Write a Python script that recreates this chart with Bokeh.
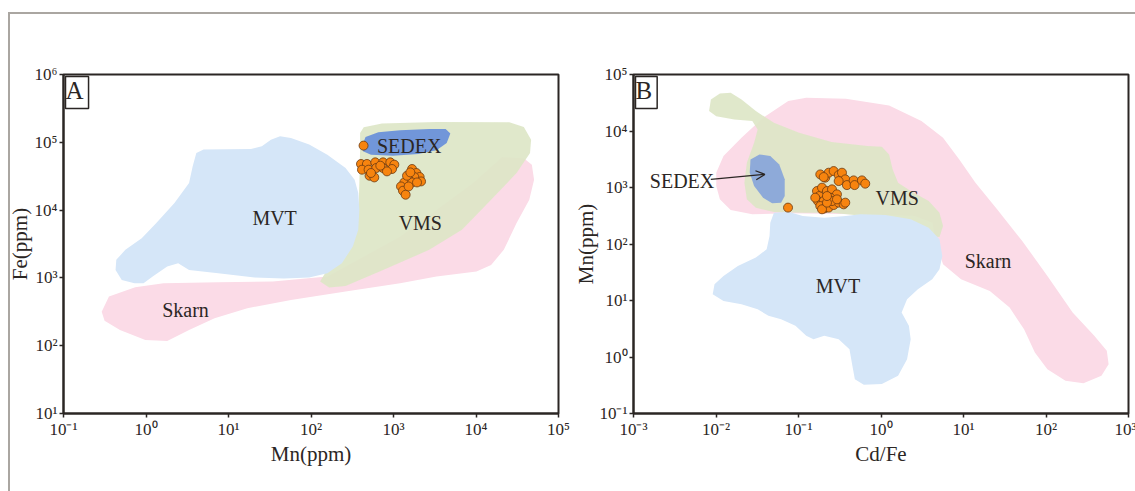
from bokeh.plotting import figure
from bokeh.layouts import row, column
from bokeh.models import Range1d, FixedTicker, CustomJSTickFormatter, Label, Arrow, OpenHead, Spacer
from bokeh.core.properties import value
from bokeh.embed import file_html
from bokeh.resources import INLINE

FONT = "Liberation Serif"
INK = "#2b2624"
FRAME_GREY = "#aaa6a1"

# ---------------- Panel A: Fe vs Mn (log10 values) ----------------
a_tick_exp_x = [-1, 0, 1, 2, 3, 4, 5]
a_tick_lab_x = ["10⁻¹", "10⁰", "10¹", "10²", "10³", "10⁴", "10⁵"]
a_tick_exp_y = [1, 2, 3, 4, 5, 6]
a_tick_lab_y = ["10¹", "10²", "10³", "10⁴", "10⁵", "10⁶"]

a_skarn_x = [-0.449, -0.131, 0.213, 0.875, 1.536, 2.198, 3.080, 3.963, 4.315, 4.580, 4.677, 4.704, 4.646, 4.492,
             4.337, 4.183, 4.006, 3.521, 3.080, 2.419, 1.757, 1.228, 0.831, 0.522, 0.257, -0.008, -0.316, -0.502, -0.537]
a_skarn_y = [2.724, 2.862, 2.921, 2.936, 2.946, 3.020, 3.611, 4.399, 4.783, 4.764, 4.670, 4.448, 4.153, 3.808,
             3.414, 3.192, 3.094, 3.020, 2.921, 2.798, 2.675, 2.552, 2.404, 2.232, 2.069, 2.084, 2.232, 2.369, 2.502]

a_vms_x = [2.595, 2.639, 2.860, 3.521, 4.404, 4.580, 4.668, 4.655, 4.492, 4.183, 3.830, 3.433, 2.860, 2.419,
           2.220, 2.110, 2.176, 2.374, 2.507, 2.573, 2.586, 2.595]
a_vms_y = [5.138, 5.222, 5.276, 5.300, 5.296, 5.227, 5.039, 4.842, 4.547, 4.153, 3.709, 3.414, 3.108, 2.882,
           2.857, 2.946, 3.079, 3.256, 3.537, 3.906, 4.399, 4.892]

a_mvt_x = [0.610, 0.698, 1.272, 1.404, 1.514, 1.625, 1.757, 1.978, 2.198, 2.419, 2.529, 2.573, 2.586, 2.573,
           2.507, 2.374, 2.198, 1.978, 1.669, 1.316, 0.875, 0.522, 0.390, 0.257, 0.081, -0.030, -0.140, -0.294,
           -0.369, -0.360, -0.250, -0.052, 0.125, 0.345, 0.522, 0.566]
a_mvt_y = [4.842, 4.892, 4.901, 4.941, 5.039, 5.089, 5.064, 4.966, 4.818, 4.621, 4.448, 4.251, 4.005, 3.709,
           3.463, 3.217, 3.069, 3.005, 2.990, 3.005, 3.069, 3.118, 3.217, 3.167, 3.020, 2.921, 2.921, 2.970,
           3.118, 3.266, 3.414, 3.586, 3.808, 4.103, 4.399, 4.645]

a_sedex_x = [2.617, 2.661, 2.816, 3.080, 3.433, 3.632, 3.689, 3.645, 3.521, 3.301, 2.992, 2.727, 2.630]
a_sedex_y = [4.941, 5.079, 5.148, 5.177, 5.197, 5.197, 5.128, 4.990, 4.882, 4.828, 4.803, 4.818, 4.867]

a_mn = [2.637,
        2.606, 2.678, 2.779, 2.873, 2.961, 3.010, 2.618, 2.698, 2.791, 2.873, 2.982, 2.710, 2.767, 2.727, 2.921, 2.840,
        3.225, 3.277, 3.317, 3.334, 3.252, 3.183, 3.131, 3.225, 3.091, 3.115, 3.147, 3.183, 3.285, 3.164, 3.204]
a_fe = [4.951,
        4.680, 4.680, 4.704, 4.704, 4.704, 4.670, 4.596, 4.596, 4.621, 4.621, 4.606, 4.507, 4.482, 4.547, 4.571, 4.655,
        4.606, 4.547, 4.488, 4.423, 4.488, 4.448, 4.408, 4.408, 4.349, 4.286, 4.227, 4.349, 4.408, 4.507, 4.556]

a_text = ["MVT", "VMS", "Skarn", "SEDEX"]
a_text_x = [1.559, 3.325, 0.479, 3.190]
a_text_y = [3.887, 3.808, 2.527, 4.940]

# ---------------- Panel B: Mn vs Cd/Fe (log10 values) ----------------
b_tick_exp_x = [-3, -2, -1, 0, 1, 2, 3]
b_tick_lab_x = ["10⁻³", "10⁻²", "10⁻¹", "10⁰", "10¹", "10²", "10³"]
b_tick_exp_y = [-1, 0, 1, 2, 3, 4, 5]
b_tick_lab_y = ["10⁻¹", "10⁰", "10¹", "10²", "10³", "10⁴", "10⁵"]

b_skarn_x = [-1.997, -1.909, -1.691, -1.429, -1.124, -0.906, -0.426, 0.098, 0.490, 0.752, 0.949, 1.145, 1.407,
             1.712, 2.017, 2.323, 2.585, 2.737, 2.759, 2.672, 2.454, 2.236, 2.017, 1.865, 1.734, 1.559, 1.319,
             0.970, 0.752, 0.665, 0.621, 0.403, -0.251, -1.124, -1.560, -1.822, -1.953, -1.997]
b_skarn_y = [3.262, 3.556, 3.880, 4.234, 4.529, 4.588, 4.570, 4.452, 4.175, 3.880, 3.497, 3.085, 2.613,
             2.053, 1.435, 0.787, 0.374, 0.109, -0.127, -0.333, -0.463, -0.421, -0.215, 0.080, 0.492, 0.875, 1.170,
             1.376, 1.641, 2.024, 2.378, 2.496, 2.525, 2.543, 2.525, 2.602, 2.790, 3.026]

b_vms_x = [-2.084, -2.062, -1.953, -1.822, -1.691, -1.517, -1.298, -0.993, -0.600, -0.164, 0.010, 0.098, 0.141,
           0.207, 0.360, 0.578, 0.709, 0.752, 0.709, 0.556, 0.316, 0.010, -0.295, -0.600, -0.949, -1.298, -1.517,
           -1.626, -1.656, -1.626, -1.538, -1.495, -1.560, -1.778, -1.997]
b_vms_y = [4.352, 4.558, 4.664, 4.676, 4.558, 4.352, 4.145, 3.969, 3.804, 3.733, 3.721, 3.586, 3.321,
           3.085, 2.938, 2.761, 2.555, 2.319, 2.124, 2.142, 2.289, 2.407, 2.507, 2.555, 2.555, 2.566, 2.643,
           2.790, 3.085, 3.438, 3.792, 4.028, 4.175, 4.204, 4.263]

b_mvt_x = [-1.298, -1.124, -0.949, -0.688, -0.426, -0.251, 0.054, 0.360, 0.578, 0.709, 0.743, 0.709, 0.621,
           0.447, 0.316, 0.250, 0.338, 0.360, 0.316, 0.207, 0.010, -0.208, -0.317, -0.347, -0.382, -0.513, -0.688,
           -0.818, -0.906, -1.037, -1.211, -1.364, -1.495, -1.691, -1.909, -2.040, -2.018, -1.909, -1.735, -1.517,
           -1.386, -1.351, -1.342]
b_mvt_y = [2.555, 2.572, 2.496, 2.466, 2.496, 2.525, 2.513, 2.437, 2.289, 2.083, 1.788, 1.553, 1.376,
           1.199, 1.022, 0.787, 0.551, 0.315, -0.038, -0.333, -0.480, -0.492, -0.392, -0.156, 0.138, 0.315, 0.374,
           0.315, 0.374, 0.551, 0.669, 0.728, 0.846, 0.934, 0.993, 1.111, 1.288, 1.435, 1.612, 1.759,
           1.906, 2.142, 2.378]

b_sedex_x = [-1.582, -1.473, -1.342, -1.233, -1.167, -1.167, -1.211, -1.320, -1.429, -1.538, -1.591]
b_sedex_y = [3.497, 3.586, 3.556, 3.409, 3.144, 2.849, 2.731, 2.720, 2.820, 3.026, 3.262]

b_cdfe = [-1.127,
          -0.736, -0.676, -0.634, -0.574, -0.513, -0.473, -0.433, -0.513, -0.413, -0.332, -0.320, -0.231, -0.191, -0.695,
          -0.776, -0.748, -0.764, -0.715, -0.655, -0.594, -0.534, -0.615, -0.695, -0.736, -0.683, -0.634, -0.574,
          -0.513, -0.453, -0.433, -0.715, -0.797, -0.594, -0.655, -0.534, -0.655]
b_mn = [2.644,
        3.232, 3.174, 3.262, 3.291, 3.220, 3.262, 3.144, 3.114, 3.043, 3.126, 3.043, 3.126, 3.068, 3.185,
        2.937, 2.849, 2.760, 2.997, 2.937, 2.967, 2.879, 2.820, 2.760, 2.672, 2.631, 2.644, 2.690,
        2.732, 2.702, 2.732, 2.614, 2.820, 2.760, 2.732, 2.790, 2.849]

b_text = ["SEDEX", "VMS", "MVT", "Skarn"]
b_text_x = [-2.412, 0.197, -0.522, 1.297]
b_text_y = [3.114, 2.820, 1.258, 1.700]

b_arrow_x = [-2.063, -1.408]
b_arrow_y = [3.144, 3.232]

C_SKARN = "#fbdbe7"
C_VMS = "#dde6c7"
C_MVT = "#d5e6f8"
C_SEDEX_A = "#7196d9"
C_SEDEX_B = "#8eaad9"
C_PT = "#f7840f"
C_PT_LINE = "#6b3a12"


def p10(v):
    return [10.0 ** e for e in v]


def tick_formatter(exps, labels):
    return CustomJSTickFormatter(args=dict(exps=exps, labels=labels), code="""
        const e = Math.log10(tick);
        let best = 0, bd = 1e9;
        for (let i = 0; i < exps.length; i++) {
            const d = Math.abs(exps[i] - e);
            if (d < bd) { bd = d; best = i; }
        }
        return labels[best];
    """)


def make_fig(mbl, mbr, ystand, xr, yr, xe, xl, ye, yl, xlabel, ylabel):
    p = figure(frame_width=495, frame_height=339, x_axis_type="log", y_axis_type="log",
               x_range=Range1d(10.0 ** xr[0], 10.0 ** xr[1]),
               y_range=Range1d(10.0 ** yr[0], 10.0 ** yr[1]),
               output_backend="svg", toolbar_location=None, title=None,
               min_border_left=mbl, min_border_right=mbr, min_border_top=60, min_border_bottom=78)
    p.grid.visible = False
    p.outline_line_color = INK
    p.outline_line_width = 2
    p.outline_line_alpha = 1
    p.background_fill_color = "white"
    p.border_fill_alpha = 0
    for ax, exps, labs, lab, st in ((p.xaxis[0], xe, xl, xlabel, 0), (p.yaxis[0], ye, yl, ylabel, ystand)):
        ax.ticker = FixedTicker(ticks=p10(exps))
        ax.formatter = tick_formatter(exps, labs)
        ax.axis_label = lab
        ax.axis_label_text_font = FONT
        ax.axis_label_text_font_size = "21px"
        ax.axis_label_text_font_style = "normal"
        ax.axis_label_text_color = INK
        ax.axis_label_standoff = st
        ax.major_label_text_font = FONT
        ax.major_label_text_font_size = "17px"
        ax.major_label_text_color = INK
        ax.major_label_standoff = 2
        ax.axis_line_color = INK
        ax.axis_line_width = 2
        ax.major_tick_line_color = INK
        ax.major_tick_line_width = 1.5
        ax.major_tick_in = 0
        ax.major_tick_out = 4
        ax.minor_tick_line_color = None
    return p


def add_text(p, txt, tx, ty):
    p.text(x=p10(tx), y=p10(ty), text=txt, text_font=value(FONT), text_font_size="20px",
           text_color=INK, text_align="center", text_baseline="middle")


def add_points(p, xs, ys):
    p.scatter(x=p10(xs), y=p10(ys), size=9, fill_color=C_PT, line_color=C_PT_LINE, line_width=0.8)


def add_tag(p, letter, x, y):
    p.add_layout(Label(x=10.0 ** x, y=10.0 ** y, text=letter, text_font=FONT, text_font_size="25px",
                       text_color=INK, text_align="left", text_baseline="top",
                       x_offset=2, y_offset=-2, border_line_color=INK, border_line_width=1.5,
                       background_fill_color="white", padding=(0, 5, 0, 5)))


# Panel A
pa = make_fig(63, 13, 0, (-1, 5), (1, 6), a_tick_exp_x, a_tick_lab_x, a_tick_exp_y, a_tick_lab_y,
              "Mn(ppm)", "Fe(ppm)")
pa.patch(p10(a_skarn_x), p10(a_skarn_y), fill_color=C_SKARN, line_color=None)
pa.patch(p10(a_vms_x), p10(a_vms_y), fill_color=C_VMS, fill_alpha=0.92, line_color=None)
pa.patch(p10(a_mvt_x), p10(a_mvt_y), fill_color=C_MVT, line_color=None)
pa.patch(p10(a_sedex_x), p10(a_sedex_y), fill_color=C_SEDEX_A, line_color=None)
add_points(pa, a_mn, a_fe)
add_text(pa, a_text, a_text_x, a_text_y)
add_tag(pa, "A", -1, 6)

# Panel B
pb = make_fig(61, 8, -2, (-3, 3), (-1, 5), b_tick_exp_x, b_tick_lab_x, b_tick_exp_y, b_tick_lab_y,
              "Cd/Fe", "Mn(ppm)")
pb.patch(p10(b_skarn_x), p10(b_skarn_y), fill_color=C_SKARN, line_color=None)
pb.patch(p10(b_vms_x), p10(b_vms_y), fill_color=C_VMS, fill_alpha=0.92, line_color=None)
pb.patch(p10(b_mvt_x), p10(b_mvt_y), fill_color=C_MVT, line_color=None)
pb.patch(p10(b_sedex_x), p10(b_sedex_y), fill_color=C_SEDEX_B, line_color=None)
add_points(pb, b_cdfe, b_mn)
add_text(pb, b_text, b_text_x, b_text_y)
pb.add_layout(Arrow(end=OpenHead(size=9, line_color=INK, line_width=1.3),
                    x_start=10.0 ** b_arrow_x[0], y_start=10.0 ** b_arrow_y[0],
                    x_end=10.0 ** b_arrow_x[1], y_end=10.0 ** b_arrow_y[1],
                    line_color=INK, line_width=1.3))
add_tag(pb, "B", -3, 5)

bg = (f"linear-gradient({FRAME_GREY}, {FRAME_GREY}) 8px 12px / 2px 100% no-repeat, "
      f"linear-gradient({FRAME_GREY}, {FRAME_GREY}) 8px 12px / 100% 2px no-repeat, white")
layout = column(Spacer(height=14, width=1135), row(pa, pb), styles={"background": bg})

open("out.html", "w").write(file_html(layout, INLINE))
